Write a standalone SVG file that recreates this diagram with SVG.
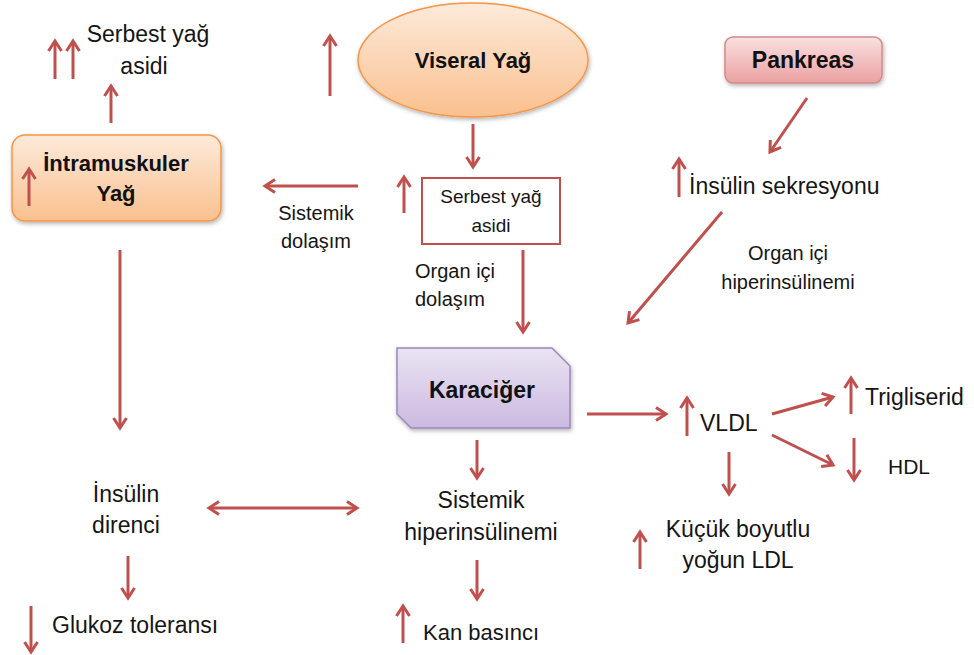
<svg xmlns="http://www.w3.org/2000/svg" width="974" height="655" viewBox="0 0 974 655">
<style>
.t{font-family:"Liberation Sans",Arial,sans-serif;font-size:22px;fill:#151515}
.b{font-family:"Liberation Sans",Arial,sans-serif;font-size:22px;font-weight:bold;fill:#111}
.c{text-anchor:middle}
.a{stroke:#C0504D;stroke-width:3;fill:none;marker-end:url(#ah)}
.d{stroke:#C0504D;stroke-width:3;fill:none;marker-end:url(#ah);marker-start:url(#ah)}
</style>
<defs>
<marker id="ah" markerUnits="userSpaceOnUse" markerWidth="16" markerHeight="16" viewBox="0 0 16 16" refX="13" refY="8" orient="auto-start-reverse">
<path d="M3,1.5 L13,8 L3,14.5" stroke="#C0504D" stroke-width="3" fill="none"/>
</marker>
<linearGradient id="og" x1="0" y1="0" x2="0" y2="1">
<stop offset="0" stop-color="#FDEADA"/><stop offset="1" stop-color="#FAC08F"/>
</linearGradient>
<linearGradient id="pg" x1="0" y1="0" x2="0" y2="1">
<stop offset="0" stop-color="#F9E1E1"/><stop offset="1" stop-color="#EBA0A0"/>
</linearGradient>
<linearGradient id="vg" x1="0" y1="0" x2="0" y2="1">
<stop offset="0" stop-color="#EAE4F2"/><stop offset="1" stop-color="#CBB9E0"/>
</linearGradient>
<filter id="sh" x="-10%" y="-10%" width="130%" height="140%">
<feDropShadow dx="1" dy="2" stdDeviation="2" flood-color="#000" flood-opacity="0.3"/>
</filter>
</defs>

<g id="serbest-top">
<text class="t c" x="148" y="42" style="font-size:23px">Serbest yağ</text>
<text class="t c" x="144" y="74" style="font-size:23px">asidi</text>
</g>

<g id="intramuskuler">
<rect x="12" y="135" width="209" height="86" rx="13" fill="url(#og)" stroke="#F79646" stroke-width="1.5" filter="url(#sh)"/>
<text class="b c" x="116" y="171">İntramuskuler</text>
<text class="b c" x="116" y="201">Yağ</text>
</g>

<g id="viseral">
<ellipse cx="473" cy="60" rx="115" ry="57" fill="url(#og)" stroke="#F79646" stroke-width="1.5" filter="url(#sh)"/>
<text class="b c" x="473" y="68">Viseral Yağ</text>
</g>

<g id="pankreas">
<rect x="725" y="37" width="157" height="46" rx="8" fill="url(#pg)" stroke="#D48A88" stroke-width="1.5" filter="url(#sh)"/>
<text class="b c" x="803" y="68" style="font-size:23px">Pankreas</text>
</g>

<g id="serbest-box">
<rect x="422" y="178" width="138" height="66" fill="#fff" stroke="#C0504D" stroke-width="2"/>
<text class="t c" x="491" y="203" style="font-size:19px">Serbest yağ</text>
<text class="t c" x="491" y="232" style="font-size:19px">asidi</text>
</g>

<g id="sistemik-dolasim">
<text class="t c" x="316" y="220" style="font-size:20px">Sistemik</text>
<text class="t c" x="316" y="248" style="font-size:20px">dolaşım</text>
</g>

<g id="organ-ici-dolasim">
<text class="t" x="415" y="278" style="font-size:20px">Organ içi</text>
<text class="t" x="415" y="306" style="font-size:20px">dolaşım</text>
</g>

<g id="insulin-sekresyonu">
<text class="t" x="689" y="194" style="font-size:23px">İnsülin sekresyonu</text>
</g>

<g id="organ-ici-hiper">
<text class="t c" x="788" y="260" style="font-size:20px">Organ içi</text>
<text class="t c" x="788" y="289" style="font-size:20px">hiperinsülinemi</text>
</g>

<g id="karaciger">
<path d="M397,348 H552 L570,366 V428 H411 L397,414 Z" fill="url(#vg)" stroke="#9C86BC" stroke-width="1.5" filter="url(#sh)"/>
<text class="b c" x="482" y="398" style="font-size:23px">Karaciğer</text>
</g>

<g id="vldl">
<text class="t" x="700" y="431" style="font-size:23px">VLDL</text>
</g>

<g id="trigliserid">
<text class="t" x="865" y="405" style="font-size:23px">Trigliserid</text>
</g>

<g id="hdl">
<text class="t" x="888" y="474" style="font-size:21px">HDL</text>
</g>

<g id="kucuk-ldl">
<text class="t c" x="738" y="537" style="font-size:23px">Küçük boyutlu</text>
<text class="t c" x="738" y="568" style="font-size:23px">yoğun LDL</text>
</g>

<g id="sistemik-hiper">
<text class="t c" x="481" y="508" style="font-size:23px">Sistemik</text>
<text class="t c" x="481" y="540" style="font-size:23px">hiperinsülinemi</text>
</g>

<g id="insulin-direnci">
<text class="t c" x="126" y="502" style="font-size:23px">İnsülin</text>
<text class="t c" x="126" y="533" style="font-size:23px">direnci</text>
</g>

<g id="glukoz">
<text class="t" x="52" y="633" style="font-size:23px">Glukoz toleransı</text>
</g>

<g id="kan-basinci">
<text class="t" x="423" y="640" style="font-size:22px">Kan basıncı</text>
</g>

<g id="connectors">
<line class="a" x1="55" y1="79" x2="55" y2="41"/>
<line class="a" x1="73" y1="79" x2="73" y2="41"/>
<line class="a" x1="111" y1="123" x2="111" y2="86"/>
<line class="a" x1="29" y1="206" x2="29" y2="169"/>
<line class="a" x1="330" y1="96" x2="330" y2="36"/>
<line class="a" x1="473" y1="124" x2="473" y2="167"/>
<line class="a" x1="358" y1="186" x2="265" y2="186"/>
<line class="a" x1="404" y1="213" x2="404" y2="177"/>
<line class="a" x1="523" y1="250" x2="523" y2="332"/>
<line class="a" x1="807" y1="98" x2="770" y2="152"/>
<line class="a" x1="679" y1="197" x2="679" y2="159"/>
<line class="a" x1="722" y1="212" x2="628" y2="323"/>
<line class="a" x1="120" y1="250" x2="120" y2="428"/>
<line class="a" x1="587" y1="414" x2="666" y2="414"/>
<line class="a" x1="687" y1="436" x2="687" y2="398"/>
<line class="a" x1="772" y1="414" x2="833" y2="397"/>
<line class="a" x1="772" y1="435" x2="833" y2="465"/>
<line class="a" x1="851" y1="414" x2="851" y2="378"/>
<line class="a" x1="854" y1="438" x2="854" y2="480"/>
<line class="a" x1="729" y1="452" x2="729" y2="494"/>
<line class="a" x1="640" y1="569" x2="640" y2="532"/>
<line class="a" x1="477" y1="440" x2="477" y2="478"/>
<line class="d" x1="209" y1="508" x2="357" y2="508"/>
<line class="a" x1="128" y1="556" x2="128" y2="598"/>
<line class="a" x1="477" y1="560" x2="477" y2="599"/>
<line class="a" x1="31" y1="606" x2="31" y2="652"/>
<line class="a" x1="403" y1="643" x2="403" y2="606"/>
</g>
</svg>
